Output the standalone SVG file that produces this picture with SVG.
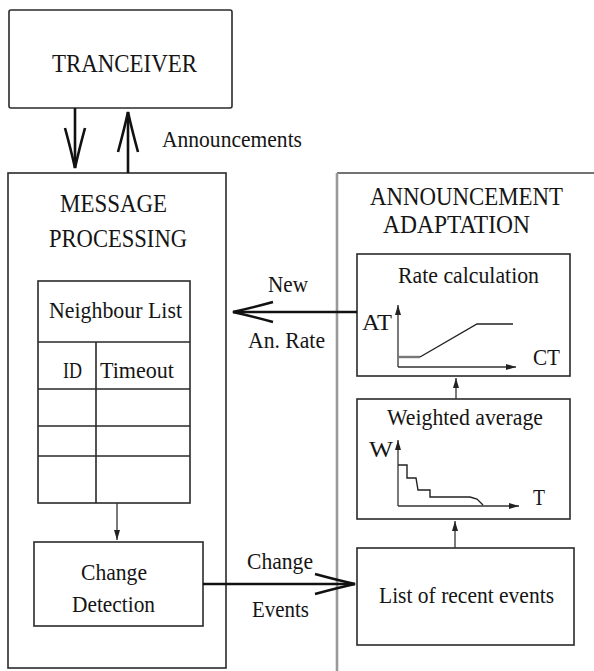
<svg xmlns="http://www.w3.org/2000/svg" width="594" height="671" viewBox="0 0 594 671">
<style>
.box{fill:#fff;stroke:#2a2a2a;stroke-width:1.6}
.ln{fill:none;stroke:#2a2a2a;stroke-width:1.6}
.t{font-family:"Liberation Serif","Times New Roman",serif;fill:#151515}
.big{font-size:25px}
.md{font-size:23px}
.conn{fill:none;stroke:#111;stroke-width:2.6}
.thin{fill:none;stroke:#333;stroke-width:1.3}
</style>
<defs>
<marker id="vhead" markerUnits="userSpaceOnUse" viewBox="-3 -13 46 26" markerWidth="46" markerHeight="26" refX="40" refY="0" orient="auto">
<path d="M0,-10 Q22,-4 40,0 Q22,4 0,10" fill="none" stroke="#111" stroke-width="2.6"/>
</marker>
<marker id="sm" markerUnits="userSpaceOnUse" viewBox="0 -4 10 8" markerWidth="10" markerHeight="8" refX="10" refY="0" orient="auto">
<path d="M0,-3 L10,0 L0,3 z" fill="#222"/>
</marker>
</defs>
<rect width="594" height="671" fill="#fff"/>

<g id="tranceiver">
<rect class="box" x="9" y="10" width="223" height="98" rx="2"/>
<text class="t big" x="52" y="72" textLength="145" lengthAdjust="spacingAndGlyphs">TRANCEIVER</text>
</g>

<g id="message-processing">
<rect class="box" x="8" y="173" width="218" height="495"/>
<text class="t big" x="60" y="212" textLength="107" lengthAdjust="spacingAndGlyphs">MESSAGE</text>
<text class="t big" x="49" y="247" textLength="138" lengthAdjust="spacingAndGlyphs">PROCESSING</text>
</g>

<g id="neighbour-list">
<rect class="box" x="38" y="281" width="152" height="222"/>
<path class="ln" d="M38,342 H190 M38,389 H190 M38,426 H190 M38,456 H190 M96,342 V503"/>
<text class="t md" x="49" y="318" textLength="133" lengthAdjust="spacingAndGlyphs">Neighbour List</text>
<text class="t md" x="63" y="378" textLength="19" lengthAdjust="spacingAndGlyphs">ID</text>
<text class="t md" x="100" y="378" textLength="74" lengthAdjust="spacingAndGlyphs">Timeout</text>
</g>

<g id="change-detection">
<rect class="box" x="34" y="542" width="169" height="84"/>
<text class="t md" x="81" y="580" textLength="66" lengthAdjust="spacingAndGlyphs">Change</text>
<text class="t md" x="72" y="612" textLength="83" lengthAdjust="spacingAndGlyphs">Detection</text>
</g>

<g id="announcement-adaptation">
<path d="M337,173 H600" fill="none" stroke="#444" stroke-width="1.6"/>
<path d="M337,173 V675" fill="none" stroke="#999" stroke-width="2.6"/>
<text class="t big" x="370" y="205" textLength="193" lengthAdjust="spacingAndGlyphs">ANNOUNCEMENT</text>
<text class="t big" x="383" y="233" textLength="147" lengthAdjust="spacingAndGlyphs">ADAPTATION</text>
</g>

<g id="rate-calculation">
<rect class="box" x="357" y="254" width="213" height="122"/>
<text class="t md" x="398" y="283" textLength="141" lengthAdjust="spacingAndGlyphs">Rate calculation</text>
<text class="t md" x="362" y="330" textLength="30" lengthAdjust="spacingAndGlyphs">AT</text>
<text class="t md" x="533" y="365" textLength="27" lengthAdjust="spacingAndGlyphs">CT</text>
<path class="thin" d="M398,367 V305" marker-end="url(#sm)"/>
<path class="thin" d="M398,367 H516" marker-end="url(#sm)"/>
<path d="M398,357 H420" fill="none" stroke="#777" stroke-width="2.4"/>
<path d="M420,357 L477,324 H513" fill="none" stroke="#222" stroke-width="1.4"/>
</g>

<g id="weighted-average">
<rect class="box" x="357" y="399" width="213" height="120"/>
<text class="t md" x="387" y="425" textLength="156" lengthAdjust="spacingAndGlyphs">Weighted average</text>
<text class="t md" x="369" y="457" textLength="24" lengthAdjust="spacingAndGlyphs">W</text>
<text class="t md" x="533" y="505" textLength="12" lengthAdjust="spacingAndGlyphs">T</text>
<path class="thin" d="M398,506 V440" marker-end="url(#sm)"/>
<path class="thin" d="M398,506 H519" marker-end="url(#sm)"/>
<path d="M398,465 H407 V478 H416 L418,490 H430 V497 H470 L477,499 L483,505" fill="none" stroke="#222" stroke-width="1.4"/>
</g>

<g id="recent-events">
<rect class="box" x="357" y="548" width="217" height="97"/>
<text class="t md" x="379" y="603" textLength="175" lengthAdjust="spacingAndGlyphs">List of recent events</text>
</g>

<g id="connectors">
<path class="conn" d="M75,108 V168" marker-end="url(#vhead)"/>
<path class="conn" d="M128,173 V112" marker-end="url(#vhead)"/>
<text class="t md" x="162" y="147" textLength="140" lengthAdjust="spacingAndGlyphs">Announcements</text>
<path class="conn" d="M357,312 H233" marker-end="url(#vhead)"/>
<text class="t md" x="268" y="292" textLength="40" lengthAdjust="spacingAndGlyphs">New</text>
<text class="t md" x="248" y="348" textLength="77" lengthAdjust="spacingAndGlyphs">An. Rate</text>
<path class="conn" d="M203,584 H355" marker-end="url(#vhead)"/>
<text class="t md" x="247" y="569" textLength="66" lengthAdjust="spacingAndGlyphs">Change</text>
<text class="t md" x="252" y="617" textLength="57" lengthAdjust="spacingAndGlyphs">Events</text>
<path class="thin" d="M117,503 V540" marker-end="url(#sm)"/>
<path class="thin" d="M455,548 V521" marker-end="url(#sm)"/>
<path class="thin" d="M456,399 V378" marker-end="url(#sm)"/>
</g>
</svg>
